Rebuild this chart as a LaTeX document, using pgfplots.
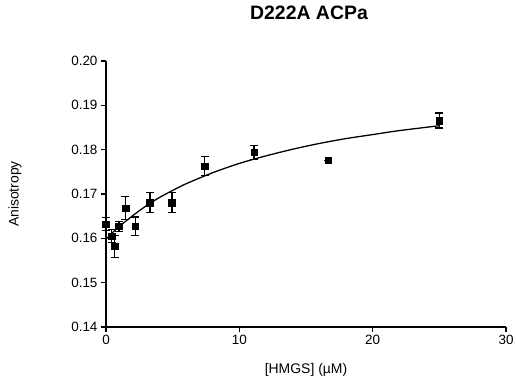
\documentclass[border=0pt]{standalone}
\usepackage{fontspec}
\setmainfont{Liberation Sans}
\usepackage{pgfplots}
\pgfplotsset{compat=1.18}
\begin{document}
\begin{tikzpicture}
\path[use as bounding box] (-106bp,-59bp) rectangle (410bp,327bp);
\begin{axis}[
  scale only axis, width=400bp, height=266bp,
  at={(0,0)}, anchor=south west,
  xmin=0, xmax=30, ymin=0.14, ymax=0.20,
  axis x line*=bottom, axis y line*=left,
  axis line style={line width=1.3pt},
  tick align=outside, major tick length=5bp,
  tick style={line width=1.3pt, black},
  xtick={0,10,20,30},
  ytick={0.14,0.15,0.16,0.17,0.18,0.19,0.20},
  yticklabel style={/pgf/number format/.cd, fixed, fixed zerofill, precision=2},
  /pgf/number format/assume math mode=true,
  ticklabel style={font=\fontsize{13.5}{15}\selectfont},
  xlabel={[HMGS] (µM)},
  ylabel={Anisotropy},
  label style={font=\fontsize{14}{16}\selectfont},
  xlabel style={at={(axis description cs:0.5,-0.1617)}, anchor=center},
  ylabel style={at={(axis description cs:-0.2275,0.5)}, anchor=center},
  title={D222A ACPa},
  title style={font=\bfseries\fontsize{19.5}{22}\selectfont, at={(axis description cs:0.5075,1.158)}, anchor=center},
  clip=false,
]
\addplot[black, line width=1.3pt, smooth] coordinates {
(0,0.1598) (0.5,0.1613) (1,0.1627) (2,0.1651) (3,0.1673) (4,0.1692)
(5,0.1708) (6,0.1723) (8,0.1748) (10,0.1769) (12,0.1786) (14,0.1801)
(16,0.1814) (18,0.1825) (20,0.1834) (22,0.1843) (25,0.1854)
};
\addplot[only marks, mark=square*, mark size=3.3bp, black,
  error bars/.cd, y dir=both, y explicit,
  error bar style={line width=1.3pt},
  error mark options={rotate=90, mark size=4bp, line width=1.3pt}]
coordinates {
(0,0.1632) +- (0,0.0015)
(0.43,0.1605) +- (0,0.0015)
(0.65,0.1582) +- (0,0.0025)
(0.975,0.1627) +- (0,0.0011)
(1.46,0.1668) +- (0,0.0026)
(2.19,0.1627) +- (0,0.0021)
(3.29,0.1681) +- (0,0.0023)
(4.94,0.1681) +- (0,0.0023)
(7.41,0.1763) +- (0,0.0021)
(11.11,0.1794) +- (0,0.0016)
(16.67,0.1776) +- (0,0.0)
(25,0.1866) +- (0,0.0017)
};
\end{axis}
\end{tikzpicture}
\end{document}
